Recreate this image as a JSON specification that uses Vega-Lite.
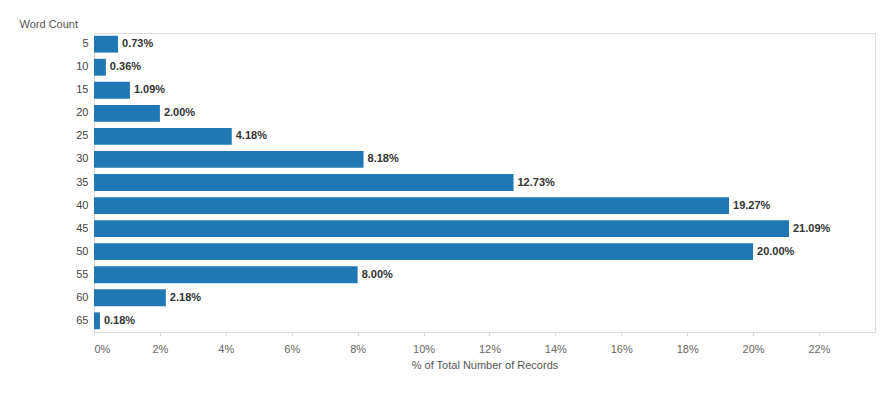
{
  "$schema": "https://vega.github.io/schema/vega-lite/v6.json",
  "autosize": {"type": "none"},
  "width": 781,
  "height": 299,
  "padding": {"left": 94, "top": 33, "right": 11, "bottom": 65},
  "background": "white",
  "config": {
    "font": "Liberation Sans",
    "view": {"stroke": "#dddddd", "strokeWidth": 1}
  },
  "data": {
    "values": [
      {"wc": 5, "pct": 0.0073},
      {"wc": 10, "pct": 0.0036},
      {"wc": 15, "pct": 0.0109},
      {"wc": 20, "pct": 0.0200},
      {"wc": 25, "pct": 0.0418},
      {"wc": 30, "pct": 0.0818},
      {"wc": 35, "pct": 0.1273},
      {"wc": 40, "pct": 0.1927},
      {"wc": 45, "pct": 0.2109},
      {"wc": 50, "pct": 0.2000},
      {"wc": 55, "pct": 0.0800},
      {"wc": 60, "pct": 0.0218},
      {"wc": 65, "pct": 0.0018}
    ]
  },
  "encoding": {
    "y": {
      "field": "wc",
      "type": "ordinal",
      "sort": "ascending",
      "scale": {"paddingInner": 0.27, "paddingOuter": 0.12},
      "axis": {
        "title": "Word Count",
        "titleAngle": 0,
        "titleAlign": "left",
        "titleBaseline": "bottom",
        "titleX": -75,
        "titleY": -4,
        "titleFont": "Liberation Sans",
        "titleFontSize": 11,
        "titleFontWeight": "normal",
        "titleColor": "#555555",
        "labelFontSize": 11,
        "labelColor": "#444444",
        "labelPadding": 6,
        "ticks": false,
        "domainColor": "#dddddd"
      }
    },
    "x": {
      "field": "pct",
      "type": "quantitative",
      "scale": {"domain": [0, 0.237], "nice": false},
      "axis": {
        "title": "% of Total Number of Records",
        "values": [0, 0.02, 0.04, 0.06, 0.08, 0.1, 0.12, 0.14, 0.16, 0.18, 0.2, 0.22],
        "format": ".0%",
        "grid": false,
        "tickSize": 4,
        "tickColor": "#dddddd",
        "domainColor": "#dddddd",
        "labelFontSize": 11,
        "labelColor": "#666666",
        "labelPadding": 7,
        "titleFontSize": 11,
        "titleFontWeight": "normal",
        "titleColor": "#555555",
        "titlePadding": 5
      }
    }
  },
  "layer": [
    {"mark": {"type": "bar", "color": "#1f77b4"}},
    {
      "mark": {"type": "text", "align": "left", "dx": 4, "fontSize": 11, "fontWeight": "bold", "color": "#333333"},
      "encoding": {"text": {"field": "pct", "format": ".2%"}}
    }
  ]
}
